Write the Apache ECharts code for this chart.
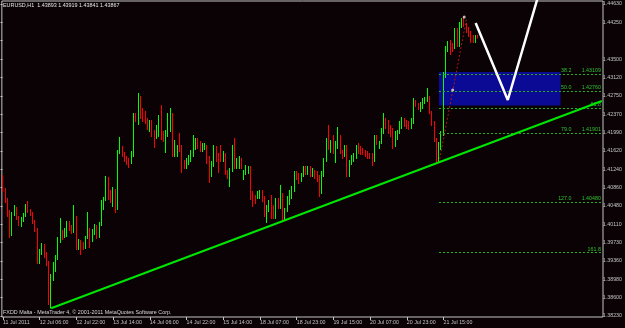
<!DOCTYPE html>
<html>
<head>
<meta charset="utf-8">
<script src="https://cdn.jsdelivr.net/npm/echarts@6/dist/echarts.min.js"></script>
<style>
html, body { margin: 0; padding: 0; background: #0a0204; }
#chart { width: 625px; height: 328px; }
</style>
</head>
<body>
<div id="chart"></div>
<script>
// EURUSD H1 bars
var opens = [
  1.41022, 1.40735, 1.4053, 1.40284, 1.39854, 1.40243, 1.40366, 1.40161, 1.40038, 1.40141,
  1.40223, 1.40387, 1.40305, 1.40243, 1.40079, 1.39915, 1.39259, 1.39464, 1.39567, 1.39382,
  1.39239, 1.3848, 1.38931, 1.39136, 1.39341, 1.3971, 1.39833, 1.39792, 1.39915, 1.40059,
  1.39956, 1.39874, 1.40161, 1.39546, 1.3969, 1.39608, 1.39546, 1.39751, 1.39915, 1.3971,
  1.39895, 1.39997, 1.39772, 1.40038, 1.40366, 1.40551, 1.40961, 1.40633, 1.4053, 1.40735,
  1.40366, 1.41514, 1.41596, 1.41453, 1.41391, 1.4135, 1.41309, 1.41453, 1.42273, 1.42109,
  1.42621, 1.42375, 1.42314, 1.4217, 1.41965, 1.42129, 1.41924, 1.41822, 1.41863, 1.42273,
  1.41904, 1.4176, 1.41863, 1.41965, 1.42273, 1.41453, 1.41453, 1.41863, 1.41617, 1.41309,
  1.41207, 1.41289, 1.4135, 1.41453, 1.41596, 1.4176, 1.41699, 1.41555, 1.41596, 1.41617,
  1.41391, 1.41043, 1.41248, 1.41596, 1.41453, 1.41555, 1.4135, 1.41453, 1.41104, 1.41002,
  1.41145, 1.41596, 1.41207, 1.41207, 1.4135, 1.40981, 1.41084, 1.41104, 1.41186, 1.40674,
  1.40592, 1.40592, 1.40592, 1.40694, 1.40571, 1.40223, 1.40325, 1.40592, 1.40387, 1.40182,
  1.4053, 1.40387, 1.40633, 1.40161, 1.40325, 1.40469, 1.40592, 1.40735, 1.41084, 1.41043,
  1.4094, 1.41043, 1.41186, 1.41084, 1.41186, 1.41043, 1.41104, 1.41084, 1.41002, 1.40694,
  1.41043, 1.4135, 1.41863, 1.41617, 1.41822, 1.41494, 1.41617, 1.41822, 1.41514, 1.41453,
  1.41617, 1.41207, 1.41289, 1.4135, 1.41412, 1.41658, 1.41596, 1.41555, 1.41514, 1.41494,
  1.41453, 1.41453, 1.4135, 1.41822, 1.41617, 1.41719, 1.41924, 1.4217, 1.42129, 1.42027,
  1.41965, 1.41658, 1.41801, 1.41924, 1.42027, 1.4217, 1.42129, 1.42109, 1.42027, 1.42129,
  1.42539, 1.42478, 1.42375, 1.42457, 1.4256, 1.4258, 1.42621, 1.42314, 1.42109, 1.4176,
  1.41391, 1.41637, 1.41883, 1.43113, 1.43605, 1.43769, 1.43708, 1.43667, 1.44015, 1.4381,
  1.44118, 1.44241, 1.44118, 1.44036, 1.43954, 1.43872, 1.4379, 1.43893
];
var closes = [
  1.40735, 1.4053, 1.40284, 1.39854, 1.40243, 1.40366, 1.40161, 1.40038, 1.40141, 1.40223,
  1.40387, 1.40305, 1.40243, 1.40079, 1.39915, 1.39259, 1.39464, 1.39567, 1.39382, 1.39239,
  1.3848, 1.38931, 1.39136, 1.39341, 1.3971, 1.39833, 1.39792, 1.39915, 1.40059, 1.39956,
  1.39874, 1.40161, 1.39546, 1.3969, 1.39526, 1.39546, 1.39751, 1.39956, 1.3971, 1.39895,
  1.39997, 1.39772, 1.40038, 1.40366, 1.40551, 1.40981, 1.40633, 1.4053, 1.40735, 1.40325,
  1.41514, 1.41596, 1.41453, 1.4135, 1.41289, 1.41248, 1.41494, 1.42273, 1.4217, 1.42621,
  1.42232, 1.4217, 1.42129, 1.42006, 1.42129, 1.41863, 1.41801, 1.42027, 1.42232, 1.41801,
  1.4176, 1.41924, 1.42273, 1.42375, 1.41453, 1.41719, 1.41617, 1.41555, 1.41289, 1.41207,
  1.4135, 1.41412, 1.41514, 1.41596, 1.4176, 1.41617, 1.41555, 1.41658, 1.41658, 1.41309,
  1.41043, 1.41289, 1.41617, 1.4135, 1.41145, 1.4135, 1.41494, 1.41084, 1.41002, 1.41145,
  1.41596, 1.41207, 1.4135, 1.41391, 1.41207, 1.41104, 1.41207, 1.41186, 1.40571, 1.40428,
  1.40489, 1.40674, 1.40694, 1.4053, 1.40325, 1.40387, 1.40489, 1.40182, 1.40182, 1.4053,
  1.40387, 1.40633, 1.4012, 1.40325, 1.40571, 1.40694, 1.40776, 1.41084, 1.40981, 1.40899,
  1.41043, 1.41186, 1.41084, 1.41186, 1.41043, 1.41145, 1.41002, 1.4094, 1.40674, 1.41084,
  1.4135, 1.4176, 1.41596, 1.41719, 1.41514, 1.41699, 1.41924, 1.41514, 1.41412, 1.41617,
  1.4135, 1.41309, 1.41412, 1.41453, 1.41617, 1.41514, 1.41494, 1.41494, 1.41453, 1.41412,
  1.41412, 1.4135, 1.41822, 1.41699, 1.41699, 1.41965, 1.42129, 1.42027, 1.41924, 1.41863,
  1.41617, 1.41904, 1.41924, 1.42109, 1.4217, 1.42068, 1.42027, 1.42006, 1.4217, 1.42539,
  1.42478, 1.42416, 1.42498, 1.4258, 1.42601, 1.42621, 1.42314, 1.42109, 1.4176, 1.41391,
  1.41658, 1.41883, 1.43113, 1.43646, 1.43749, 1.43544, 1.43605, 1.44015, 1.4381, 1.44138,
  1.44241, 1.44118, 1.43995, 1.43913, 1.4379, 1.4379, 1.43892, 1.43867
];
var lows = [
  1.40694, 1.40469, 1.40182, 1.39751, 1.39792, 1.40202, 1.4012, 1.39997, 1.39977, 1.40079,
  1.40182, 1.40264, 1.40202, 1.40038, 1.39874, 1.39218, 1.39218, 1.39403, 1.39341, 1.39177,
  1.38377, 1.38306, 1.3887, 1.39054, 1.393, 1.39649, 1.3971, 1.39751, 1.39772, 1.39895,
  1.39833, 1.39854, 1.39505, 1.39505, 1.39403, 1.39505, 1.39526, 1.39731, 1.39546, 1.39669,
  1.39813, 1.39731, 1.39751, 1.39997, 1.40325, 1.4051, 1.4053, 1.40469, 1.40387, 1.40264,
  1.40325, 1.41473, 1.41412, 1.41309, 1.41248, 1.41186, 1.41268, 1.41412, 1.42129, 1.42068,
  1.42191, 1.42129, 1.42088, 1.41965, 1.41924, 1.41822, 1.41596, 1.41781, 1.41822, 1.4176,
  1.41719, 1.41494, 1.41822, 1.41924, 1.41412, 1.41412, 1.41412, 1.41514, 1.41084, 1.41166,
  1.41166, 1.41248, 1.41309, 1.41412, 1.41555, 1.41576, 1.41514, 1.41514, 1.41555, 1.41268,
  1.40879, 1.41002, 1.41207, 1.41309, 1.41084, 1.41309, 1.41309, 1.41043, 1.40961, 1.40797,
  1.41104, 1.41166, 1.41166, 1.41166, 1.41166, 1.4094, 1.41043, 1.41063, 1.4053, 1.40387,
  1.40448, 1.40551, 1.40551, 1.40489, 1.40182, 1.40059, 1.40284, 1.40141, 1.40141, 1.40141,
  1.40346, 1.40346, 1.40079, 1.4012, 1.40284, 1.40428, 1.40551, 1.40694, 1.4094, 1.40858,
  1.40899, 1.41002, 1.41043, 1.41043, 1.41002, 1.41002, 1.40961, 1.40899, 1.40592, 1.40653,
  1.41002, 1.41309, 1.41555, 1.41494, 1.41473, 1.41289, 1.41576, 1.41473, 1.41371, 1.41412,
  1.41002, 1.41002, 1.41248, 1.41309, 1.41371, 1.41473, 1.41453, 1.41453, 1.41412, 1.41371,
  1.41371, 1.41227, 1.41309, 1.41658, 1.41576, 1.41678, 1.41883, 1.41986, 1.41883, 1.41822,
  1.41576, 1.41617, 1.4176, 1.41883, 1.41986, 1.42027, 1.41986, 1.41965, 1.41986, 1.42088,
  1.42437, 1.42375, 1.42334, 1.42396, 1.42498, 1.42539, 1.42293, 1.42047, 1.41719, 1.41289,
  1.41289, 1.41555, 1.41842, 1.43031, 1.43564, 1.43503, 1.43564, 1.43626, 1.43667, 1.43667,
  1.44056, 1.44077, 1.43954, 1.43872, 1.43749, 1.43749, 1.43749, 1.43841
];
var highs = [
  1.41043, 1.40776, 1.40571, 1.40325, 1.40284, 1.40428, 1.40387, 1.40202, 1.40182, 1.40264,
  1.40448, 1.4051, 1.40346, 1.40284, 1.4012, 1.39956, 1.39526, 1.39649, 1.39628, 1.39464,
  1.3928, 1.39013, 1.39259, 1.39403, 1.39772, 1.40161, 1.39915, 1.39956, 1.401, 1.401,
  1.40018, 1.40428, 1.40202, 1.39731, 1.3971, 1.39669, 1.39792, 1.40284, 1.39956, 1.39936,
  1.40038, 1.40018, 1.40079, 1.4053, 1.40592, 1.41022, 1.41002, 1.40735, 1.40797, 1.40756,
  1.41555, 1.41822, 1.41637, 1.41514, 1.41432, 1.41391, 1.41535, 1.42314, 1.42314, 1.42724,
  1.42662, 1.42416, 1.42355, 1.42211, 1.4217, 1.4217, 1.41965, 1.42068, 1.42273, 1.42478,
  1.41945, 1.41965, 1.42314, 1.42416, 1.42314, 1.4176, 1.41658, 1.41904, 1.41658, 1.4135,
  1.41391, 1.41453, 1.41555, 1.41863, 1.41801, 1.41801, 1.4174, 1.41699, 1.41699, 1.41658,
  1.41432, 1.4133, 1.41658, 1.41637, 1.41494, 1.41658, 1.41535, 1.41494, 1.41145, 1.41186,
  1.41658, 1.41801, 1.41391, 1.41432, 1.41391, 1.41145, 1.41248, 1.41227, 1.41227, 1.40715,
  1.40633, 1.40715, 1.40735, 1.40735, 1.40612, 1.40428, 1.4053, 1.40633, 1.40428, 1.40571,
  1.40571, 1.40838, 1.40674, 1.40366, 1.40612, 1.40735, 1.40817, 1.41125, 1.41125, 1.41084,
  1.41084, 1.41227, 1.41227, 1.41227, 1.41227, 1.41186, 1.41145, 1.41125, 1.41043, 1.41125,
  1.41391, 1.41801, 1.42068, 1.4176, 1.41863, 1.4174, 1.42027, 1.41863, 1.41555, 1.41658,
  1.41658, 1.4135, 1.41453, 1.41494, 1.41658, 1.41699, 1.41637, 1.41596, 1.41555, 1.41535,
  1.41494, 1.41494, 1.41863, 1.41863, 1.4174, 1.42006, 1.42314, 1.42211, 1.4217, 1.42068,
  1.42006, 1.41945, 1.41965, 1.4215, 1.42232, 1.42211, 1.4217, 1.4215, 1.42211, 1.42621,
  1.4258, 1.42519, 1.42539, 1.42621, 1.42642, 1.42826, 1.42662, 1.42355, 1.4215, 1.41801,
  1.41719, 1.41945, 1.43154, 1.43687, 1.4379, 1.4381, 1.43749, 1.44056, 1.44056, 1.44179,
  1.44261, 1.44282, 1.44159, 1.44077, 1.43995, 1.43913, 1.43913, 1.43919
];

var timeLabels = ['11 Jul 2011', '12 Jul 06:00', '12 Jul 22:00', '13 Jul 14:00', '14 Jul 06:00',
  '14 Jul 22:00', '15 Jul 14:00', '18 Jul 07:00', '18 Jul 23:00', '19 Jul 15:00',
  '20 Jul 07:00', '20 Jul 23:00', '21 Jul 15:00'];
// right price scale, bottom to top (third from top is covered by the bid box)
var priceTicks = ['1.38230', '1.38600', '1.38980', '1.39360', '1.39730', '1.40110', '1.40480',
  '1.40860', '1.41240', '1.41620', '1.41990', '1.42370', '1.42750', '1.43120', '1.43500',
  '', '1.44250', '1.44630'];

var fibLevels = ['38.2', '50.0', '61.8', '79.0', '127.0', '161.8'];
var fibPrices = [1.43109, 1.42760, 1.42410, 1.41901, 1.40480, 1.39450];
var fibPriceText = ['1.43109', '1.42760', '', '1.41901', '1.40480', ''];
var fibFrom = 190;
var fibLineX = [190, 202];
var fibLineY = [1.41289, 1.44241];

var boxX = [190, 243];
var boxY = [1.43154, 1.42467];
var trendX = [21, 261];
var trendY = [1.38310, 1.42560];
var drawX = [206, 220, 234];
var drawY = [1.44159, 1.42580, 1.44831];
var dotX = [201, 196];
var dotY = [1.44282, 1.42785];

var lastPrice = 1.43867;
var header = 'EURUSD,H1  1.43893 1.43919 1.43841 1.43867';
var footer = 'FXDD Malta - MetaTrader 4, \u00a9 2001-2011 MetaQuotes Software Corp.';

var slots = 262;
var cats = [];
for (var i = 0; i < slots; i++) cats.push(String(i));

var bars = opens.map(function (o, i) { return [o, closes[i], lows[i], highs[i]]; });

function hasLabel(idx) {
    return idx % 16 === 0 && idx / 16 < timeLabels.length;
}

var fibMarks = fibPrices.map(function (p, k) {
    var txt = fibPriceText[k] ? fibLevels[k] + '       ' + fibPriceText[k] : fibLevels[k];
    return [{ name: txt, coord: [fibFrom, p] }, { coord: [slots - 1, p] }];
});

var chartDom = document.getElementById('chart');
var myChart = echarts.init(chartDom);
var gray = '#c4c4c4';
var font = 'Liberation Sans';

var option = {
    animation: false,
    backgroundColor: '#0a0204',
    title: [
        { text: header, left: 3, top: 3, padding: 0,
          textStyle: { color: '#e8e8e8', fontSize: 5.4, fontWeight: 'normal', fontFamily: font } },
        { text: footer, left: 3, top: 310, padding: 0,
          textStyle: { color: '#d8d8d8', fontSize: 5.4, fontWeight: 'normal', fontFamily: font } }
    ],
    grid: [
        { left: 0.5, right: 22, top: 1, bottom: 11, show: true, borderColor: gray, borderWidth: 1 },
        { left: 0.5, right: 22, top: 4, bottom: 12 }
    ],
    xAxis: [
        {
            type: 'category', gridIndex: 0, data: cats, boundaryGap: true,
            axisLine: { show: false },
            axisTick: { show: true, alignWithLabel: true, length: 3, interval: hasLabel,
                        lineStyle: { color: gray } },
            axisLabel: {
                interval: hasLabel, align: 'left', margin: 3, color: gray, fontSize: 5.3,
                fontFamily: font,
                formatter: function (v, idx) { return hasLabel(idx) ? timeLabels[idx / 16] : ''; }
            },
            splitLine: { show: false }
        },
        { type: 'value', gridIndex: 1, show: false }
    ],
    yAxis: [
        {
            type: 'value', gridIndex: 0, min: 1.381315, max: 1.4461, scale: true,
            axisLine: { show: false }, axisTick: { show: false },
            axisLabel: { show: false }, splitLine: { show: false }
        },
        {
            type: 'category', gridIndex: 1, data: priceTicks, boundaryGap: false, position: 'right',
            axisLine: { show: false },
            axisTick: { show: true, length: 2, lineStyle: { color: gray } },
            axisLabel: { interval: 0, margin: 3, color: gray, fontSize: 5.3, fontFamily: font },
            splitLine: { show: false }
        }
    ],
    series: [
        {
            name: 'box', type: 'line', data: [], z: 1, silent: true,
            markArea: {
                silent: true,
                itemStyle: { color: '#0a0a94', opacity: 1 },
                data: [[{ coord: [boxX[0], boxY[0]] }, { coord: [boxX[1], boxY[1]] }]]
            }
        },
        {
            name: 'EURUSD', type: 'candlestick', data: bars, z: 2, barWidth: 1.3,
            itemStyle: {
                color: '#00ff00', color0: '#ff0000',
                borderColor: '#00ff00', borderColor0: '#ff0000', borderWidth: 1
            }
        },
        {
            name: 'fibo', type: 'line', data: [], z: 3, silent: true,
            markLine: {
                silent: true, symbol: ['none', 'none'],
                lineStyle: { color: '#22b422', type: [2, 2], width: 1 },
                label: {
                    position: 'insideEndTop', distance: 1, formatter: '{b}',
                    color: '#2fc42f', fontSize: 5.3, fontFamily: font
                },
                data: fibMarks
            }
        },
        {
            name: 'fibLine', type: 'line', z: 4, symbol: 'none', silent: true,
            data: fibLineX.map(function (x, k) { return [x, fibLineY[k]]; }),
            lineStyle: { color: '#b01818', width: 1, type: [2, 2] }
        },
        {
            name: 'trend', type: 'line', z: 5, symbol: 'none', silent: true,
            data: trendX.map(function (x, k) { return [x, trendY[k]]; }),
            lineStyle: { color: '#00e600', width: 2 }
        },
        {
            name: 'projection', type: 'line', z: 6, symbol: 'none', silent: true,
            data: drawX.map(function (x, k) { return [x, drawY[k]]; }),
            lineStyle: { color: '#ffffff', width: 2.5 }
        },
        {
            name: 'anchors', type: 'scatter', z: 7, silent: true, symbolSize: 3,
            data: dotX.map(function (x, k) { return [x, dotY[k]]; }),
            itemStyle: { color: '#ffe0d8' }
        },
        {
            name: 'bid', type: 'line', data: [], z: 8, silent: true,
            markLine: {
                silent: true, symbol: ['none', 'none'],
                lineStyle: { opacity: 0 },
                label: {
                    position: 'end', distance: 1, offset: [0, 4],
                    formatter: String(lastPrice.toFixed(5)),
                    color: '#000', backgroundColor: '#ffffff', padding: [1, 2, 0, 2],
                    fontSize: 5.3, fontFamily: font
                },
                data: [{ yAxis: lastPrice }]
            }
        }
    ]
};

option && myChart.setOption(option);
</script>
</body>
</html>
